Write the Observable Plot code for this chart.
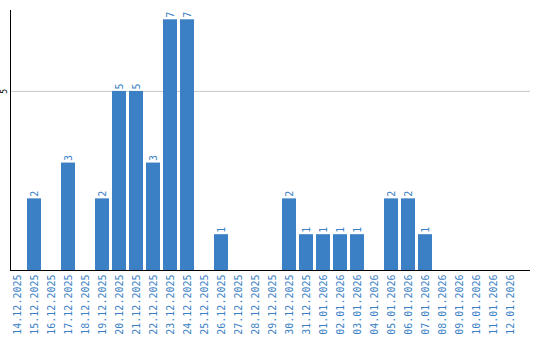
<!DOCTYPE html>
<html><head><meta charset="utf-8">
<script src="https://cdn.jsdelivr.net/npm/d3@7"></script>
<script src="https://cdn.jsdelivr.net/npm/@observablehq/plot@0.6"></script>
<style>body{margin:0;background:#fff}</style>
</head><body><div id="chart"></div>
<script>
const dates = ["14.12.2025","15.12.2025","16.12.2025","17.12.2025","18.12.2025","19.12.2025","20.12.2025","21.12.2025","22.12.2025","23.12.2025","24.12.2025","25.12.2025","26.12.2025","27.12.2025","28.12.2025","29.12.2025","30.12.2025","31.12.2025","01.01.2026","02.01.2026","03.01.2026","04.01.2026","05.01.2026","06.01.2026","07.01.2026","08.01.2026","09.01.2026","10.01.2026","11.01.2026","12.01.2026"];
const counts = [0,2,0,3,0,2,5,5,3,7,7,0,1,0,0,0,2,1,1,1,1,0,2,2,1,0,0,0,0,0];
const yTicks = [5];
const data = dates.map((d,i)=>({date:d, count:counts[i]}));
const nz = data.filter(d=>d.count>0);
const blue = "#3b7fc4";
const mono = "DejaVu Sans Mono";
const chart = Plot.plot({
  width:540, height:340,
  marginLeft:10, marginRight:10, marginTop:10, marginBottom:70,
  style:{fontFamily:mono, background:"#fff"},
  x:{domain:dates, range:[10,517], paddingInner:3/17, paddingOuter:0, label:null},
  y:{domain:[0,7.26], label:null},
  marks:[
    Plot.gridY(yTicks,{stroke:"#c8c8c8", strokeOpacity:1}),
    Plot.barY(data,{x:"date", y:"count", fill:blue}),
    Plot.text(nz,{x:"date", y:"count", text:d=>String(d.count), rotate:-90, textAnchor:"start", dy:-2, fill:blue, fontSize:10, fontFamily:mono}),
    Plot.axisX({tickSize:0, tickPadding:4, tickRotate:-90, fill:blue, fontSize:10, fontFamily:mono, label:null}),
    Plot.axisY(yTicks,{tickSize:0, tickPadding:2, tickRotate:-90, fontSize:8, fontFamily:mono, label:null, textAnchor:"middle", dx:-2}),
    Plot.ruleX([0],{x:()=>dates[0], dx:-7, stroke:"#000", y1:0, y2:7.26}),
    Plot.ruleY([0],{stroke:"#000"})
  ]
});
document.getElementById("chart").append(chart);
</script>
</body></html>
